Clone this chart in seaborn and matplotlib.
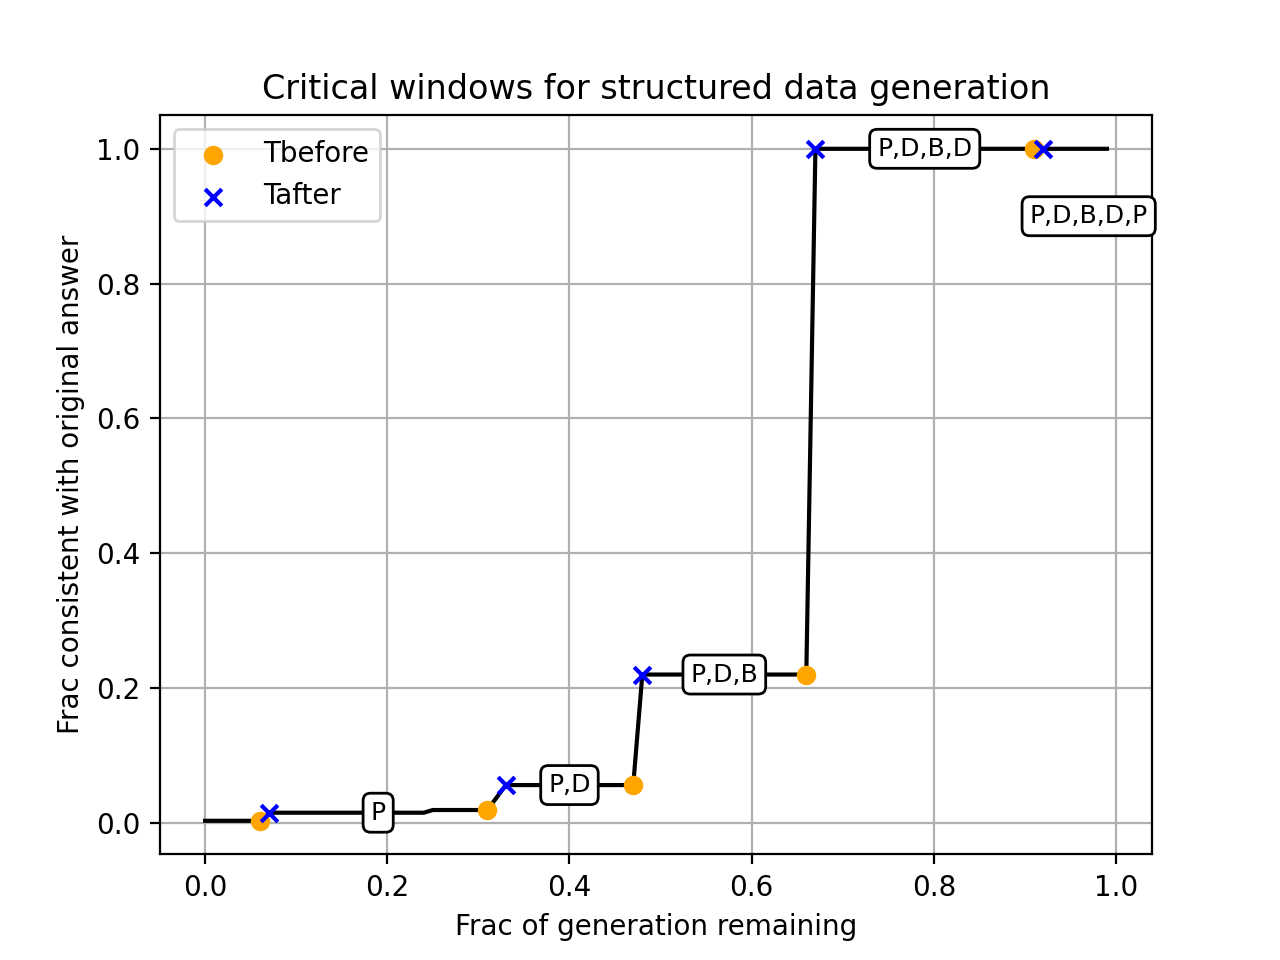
"""
Critical windows plot
"""
import pandas as pd
import matplotlib
matplotlib.use("Agg")
import matplotlib.pyplot as plt
import seaborn as sns

# curve: fraction consistent with original answer vs fraction of generation remaining
curve_x = [0.0, 0.06, 0.07, 0.24, 0.25, 0.31, 0.33, 0.47, 0.48, 0.66, 0.67, 0.99]
curve_y = [0.003, 0.003, 0.015, 0.015, 0.019, 0.019, 0.056, 0.056, 0.22, 0.22, 1.0, 1.0]

# critical window endpoints
tbefore_x = [0.06, 0.31, 0.47, 0.66, 0.91]
tbefore_y = [0.003, 0.019, 0.056, 0.22, 1.0]
tafter_x = [0.07, 0.33, 0.48, 0.67, 0.92]
tafter_y = [0.015, 0.056, 0.22, 1.0, 1.0]

# window labels
labels = ["P", "P,D", "P,D,B", "P,D,B,D", "P,D,B,D,P"]
label_x = [0.19, 0.40, 0.57, 0.79, 0.97]
label_y = [0.015, 0.056, 0.22, 1.0, 0.90]

curve = pd.DataFrame({"x": curve_x, "y": curve_y})
before = pd.DataFrame({"x": tbefore_x, "y": tbefore_y})
after = pd.DataFrame({"x": tafter_x, "y": tafter_y})

fig, ax = plt.subplots(figsize=(6.4, 4.8), dpi=200)

sns.lineplot(data=curve, x="x", y="y", color="black", linewidth=1.5,
             estimator=None, sort=False, ax=ax, zorder=2)
sns.scatterplot(data=before, x="x", y="y", color="orange", marker="o", s=36,
                edgecolor="orange", linewidth=1.0, label="Tbefore", ax=ax, zorder=3)
sns.scatterplot(data=after, x="x", y="y", color="blue", marker="x", s=36,
                linewidth=1.5, label="Tafter", ax=ax, zorder=4)

for txt, lx, ly in zip(labels, label_x, label_y):
    ax.text(lx, ly, txt, ha="center", va="center", fontsize=9, zorder=5,
            bbox=dict(boxstyle="round", facecolor="white", edgecolor="black"))

ax.grid(True)
ax.set_title("Critical windows for structured data generation")
ax.set_xlabel("Frac of generation remaining")
ax.set_ylabel("Frac consistent with original answer")
ax.legend(loc="upper left")

plt.savefig("out.png")
